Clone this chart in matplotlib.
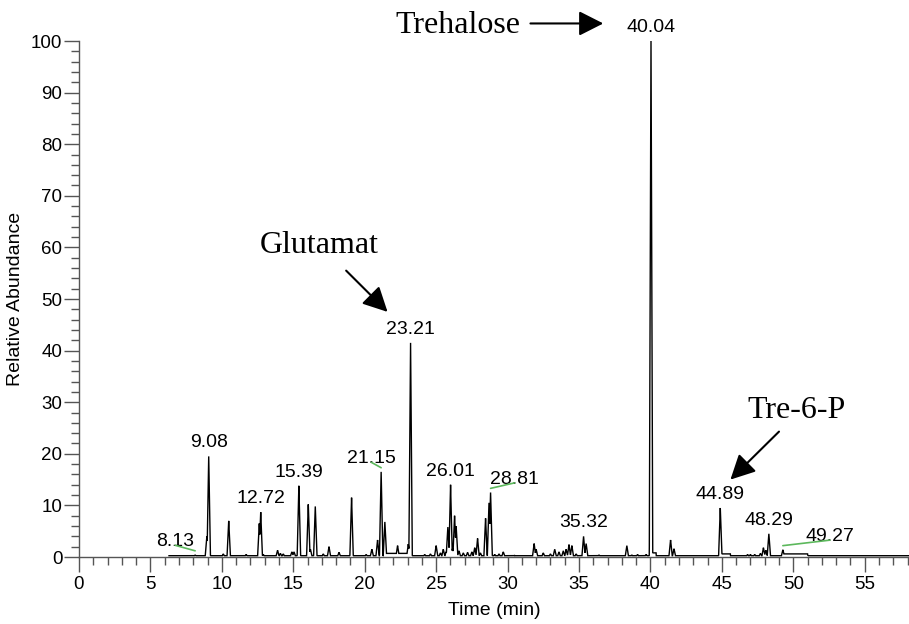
import numpy as np
import matplotlib
matplotlib.use("Agg")
import matplotlib.pyplot as plt
from matplotlib.ticker import MultipleLocator

plt.rcParams['font.family'] = ['Liberation Sans', 'DejaVu Sans']

# Peak table: retention time (min) and relative abundance (%)
peak_rt = [8.13, 8.95, 9.08, 10.10, 10.48, 11.70, 12.62, 12.72, 12.90,
           13.90, 14.10, 14.30, 14.90, 15.05, 15.39, 16.05, 16.20, 16.54,
           17.10, 17.50, 18.20, 19.08, 20.10, 20.50, 20.90, 21.15, 21.41,
           22.30, 22.70, 23.05, 23.21, 24.20, 24.60, 25.00, 25.30, 25.50,
           25.70, 25.82, 26.01, 26.15, 26.29, 26.40, 26.60, 26.90, 27.20,
           27.50, 27.70, 27.90, 28.10, 28.46, 28.70, 28.81, 29.10, 29.40,
           29.70, 30.50, 31.86, 32.00, 32.50, 33.00, 33.30, 33.60, 33.90,
           34.10, 34.30, 34.50, 34.80, 35.32, 35.50, 36.40, 38.35, 38.70,
           39.10, 39.70, 40.04, 40.30, 41.41, 41.65, 44.89, 45.30, 46.80,
           47.00, 47.30, 47.70, 47.91, 48.08, 48.29, 49.27, 50.90, 51.00]
peak_height = [0.4, 4.0, 19.5, 0.6, 7.0, 0.5, 6.5, 8.7, 0.5,
               1.3, 0.7, 0.6, 1.0, 1.0, 13.8, 10.2, 1.5, 9.8,
               0.6, 2.0, 0.9, 11.5, 0.5, 1.5, 3.3, 16.5, 6.8,
               2.2, 0.6, 2.5, 41.5, 0.5, 0.6, 2.2, 0.8, 1.5,
               1.0, 5.8, 14.0, 1.6, 8.0, 6.0, 1.2, 0.8, 0.9,
               1.0, 1.8, 3.6, 0.8, 7.5, 10.5, 12.5, 0.5, 0.6,
               1.0, 0.3, 2.6, 1.5, 0.8, 0.6, 1.5, 1.0, 1.2,
               1.5, 2.4, 2.2, 0.6, 4.0, 2.6, 0.4, 2.2, 0.4,
               0.5, 0.5, 100.0, 0.6, 3.3, 1.6, 9.5, 0.4, 0.5,
               0.5, 0.5, 0.7, 1.8, 1.3, 4.5, 1.4, 0.4, 0.4]

# Raised baseline stretches: start, end, level
plateau_start = [6.30, 21.50, 40.05, 44.95, 49.30]
plateau_end = [58.10, 23.10, 40.40, 45.60, 51.00]
plateau_level = [0.25, 0.70, 0.80, 0.60, 0.60]

# Labelled retention times
label_rt = [8.13, 9.08, 12.72, 15.39, 21.15, 23.21, 26.01, 28.81,
            35.32, 40.04, 44.89, 48.29, 49.27]
# labels moved sideways (offset in pixels) and tied back with a leader line
moved_label = {8.13: -20, 21.15: -10, 28.81: 24, 49.27: 47}

x_max = 58.1
half_width = 0.12

# --- build the chromatogram trace from the peak table ---
t = np.union1d(np.linspace(plateau_start[0], x_max, 8000), peak_rt)
base = np.zeros_like(t)
for s, e, lv in zip(plateau_start, plateau_end, plateau_level):
    sel = (t >= s) & (t <= e)
    base[sel] = np.maximum(base[sel], lv)
trace = base.copy()
for rt, h in zip(peak_rt, peak_height):
    tri = h * np.clip(1 - np.abs(t - rt) / half_width, 0, None)
    trace = np.maximum(trace, tri)

W, H, DPI = 909, 624, 100
fig = plt.figure(figsize=(W / DPI, H / DPI), dpi=DPI)
ax = fig.add_axes([79 / W, 1 - 557 / H, (W - 79) / W, (557 - 41) / H])

ax.plot(t, trace, color='black', lw=1.0, solid_joinstyle='miter')

ax.set_xlim(0, x_max)
ax.set_ylim(0, 100)
for side in ('top', 'right'):
    ax.spines[side].set_visible(False)
for side in ('left', 'bottom'):
    ax.spines[side].set_color('#555555')
    ax.spines[side].set_linewidth(1.0)

ax.xaxis.set_major_locator(MultipleLocator(5))
ax.xaxis.set_minor_locator(MultipleLocator(1))
ax.yaxis.set_major_locator(MultipleLocator(10))
ax.yaxis.set_minor_locator(MultipleLocator(2))
ax.tick_params(axis='both', which='both', direction='out', color='#555555',
               labelcolor='black', labelsize=13.5, width=1.0)
ax.tick_params(axis='x', which='major', length=10.5, pad=3)
ax.tick_params(axis='x', which='minor', length=6)
ax.tick_params(axis='y', which='major', length=10.5, pad=1.5)
ax.tick_params(axis='y', which='minor', length=6)

ax.set_xlabel('Time (min)', fontsize=14, labelpad=7)
ax.set_ylabel('Relative Abundance', fontsize=14, labelpad=5)

# --- retention time labels ---
px = 72 / DPI
green = '#5cb85c'
for rt in label_rt:
    apex = float(np.interp(rt, t, trace))
    dx = moved_label.get(rt, 0)
    ax.annotate(f'{rt:.2f}', xy=(rt, apex), xytext=(dx * px, 13.5 * px),
                textcoords='offset points', ha='center', va='center',
                fontsize=14, annotation_clip=False)
    if rt in moved_label:
        ax.annotate('', xy=(rt, apex + 0.8), xytext=(dx * px, 5.5 * px),
                    textcoords='offset points', annotation_clip=False,
                    arrowprops=dict(arrowstyle='-', color=green, lw=1.2,
                                    shrinkA=0, shrinkB=0))

# --- compound annotations ---
serif = ['Liberation Serif', 'DejaVu Serif']
head = dict(arrowstyle='-|>,head_length=0.75,head_width=0.38',
            mutation_scale=20, color='black', lw=1.5, shrinkA=0, shrinkB=0)

ax.text(26.5, 103.0, 'Trehalose', family=serif, fontsize=23,
        ha='center', va='center', clip_on=False)
ax.annotate('', xy=(36.7, 103.4), xytext=(31.6, 103.4),
            arrowprops=head, annotation_clip=False)

ax.text(16.8, 60.3, 'Glutamat', family=serif, fontsize=23,
        ha='center', va='center')
ax.annotate('', xy=(21.6, 47.5), xytext=(18.7, 55.5), arrowprops=head)

ax.text(50.2, 28.3, 'Tre-6-P', family=serif, fontsize=23,
        ha='center', va='center')
ax.annotate('', xy=(45.6, 15.0), xytext=(49.0, 24.3), arrowprops=head)

fig.savefig('out.png', dpi=DPI)
